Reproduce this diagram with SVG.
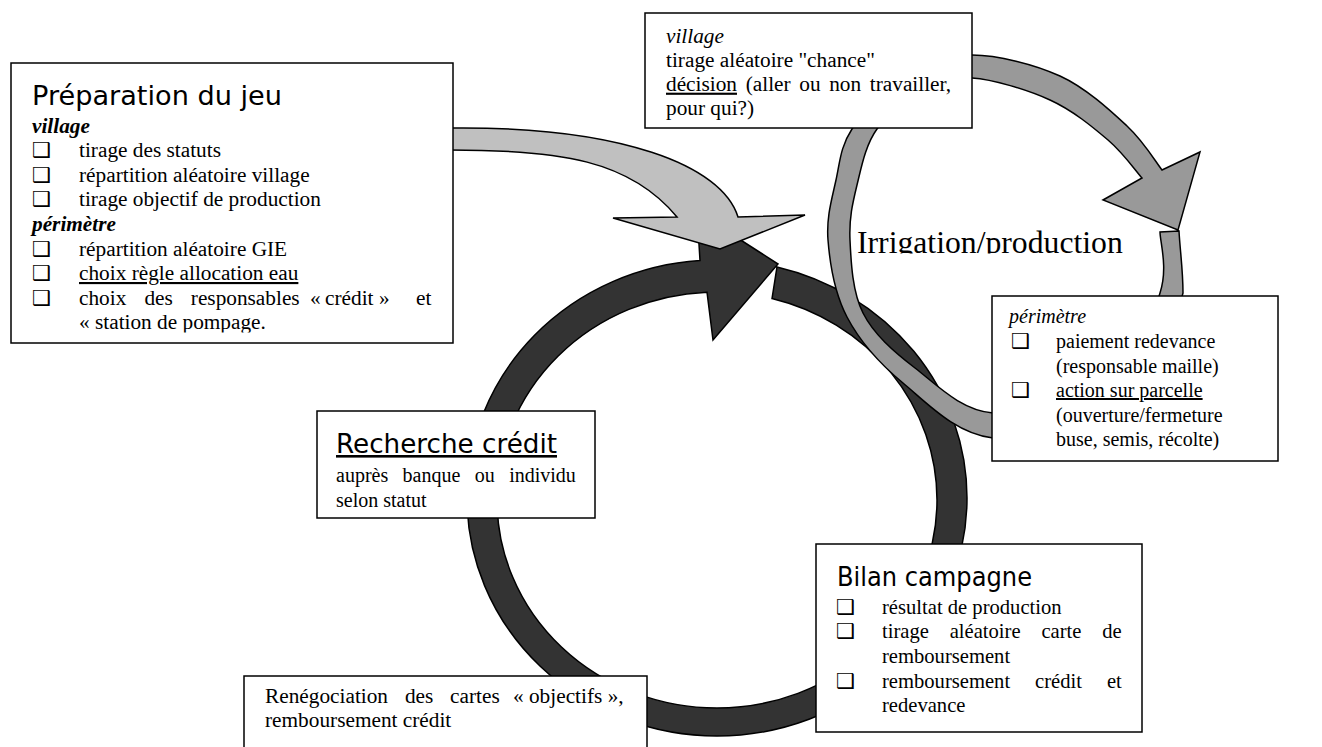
<svg xmlns="http://www.w3.org/2000/svg" width="1322" height="747" viewBox="0 0 1322 747">
<style>
.box{fill:#fff;stroke:#000;stroke-width:1.5}
.ar{stroke:#000;stroke-width:1.5;stroke-linejoin:miter}
.t{font-family:'Liberation Serif','Times New Roman',serif;font-size:21.3px;fill:#000}
.s20{font-size:20px}
.s206{font-size:20.6px}
.h{font-family:'DejaVu Sans',sans-serif;font-size:26px;fill:#000}
.cb{font-family:'DejaVu Sans',sans-serif;font-size:21px;font-weight:bold;fill:#000}
.bi{font-weight:bold;font-style:italic}
.i{font-style:italic}
.u{text-decoration:underline}
</style>
<defs>
<clipPath id="clipIrr"><rect x="800" y="190" width="400" height="63.5"/></clipPath>
<clipPath id="clipPrep"><rect x="11" y="63" width="442" height="269.5"/></clipPath>
</defs>
<rect width="1322" height="747" fill="#fff"/>
<g id="connectors">
<path id="cycle-dark" class="ar" fill="#333333" d="M777,267 A250,238 0 0 1 967,498 A250,238 0 0 1 467,498 A250,238 0 0 1 700,260.5 L697,212 L778,264 L713,340 L707,292.2 A220,208 0 0 0 497,500 A220,208 0 0 0 937,500 A220,208 0 0 0 772,298.6 Z"/>
<path id="arrow-prep" class="ar" fill="#c0c0c0" d="M440,128 L450,128 C620,126 722,165 738,217 L805,215 L720,249 L613,218 L677,217 C630,160 560,150 450,150 L440,150 Z"/>
<path id="cycle-irrigation" class="ar" fill="#999999" d="M1179,231 C1180,250 1183,270 1183,293 C1174.8,322.8 1161.7,385.8 1130,410 C1098.3,434.2 1030.8,442.5 993,438 C955.2,433.5 927.3,403.2 903,383 C878.7,362.8 859.5,340.8 847,317 C834.5,293.2 829.8,262.8 828,240 C826.2,217.2 832,198.5 836,180 C840,161.5 840.5,146.5 852,129 C863.5,111.5 885,87.3 905,75 C925,62.7 946.2,54.8 972,55 C997.8,55.2 1034.2,64.2 1060,76 C1085.8,87.8 1110,110.3 1127,126 C1144,141.7 1156.2,162.7 1162,170 L1200,152 L1178,230 L1103,200 L1142,178 C1136.3,171.7 1123.3,153 1108,140 C1092.7,127 1072.7,110.3 1050,100 C1027.3,89.7 992.8,79.3 972,78 C951.2,76.7 940.8,83.5 925,92 C909.2,100.5 888.3,113.5 877,129 C865.7,144.5 861.5,166.5 857,185 C852.5,203.5 849,218.7 850,240 C851,261.3 852.2,291.7 863,313 C873.8,334.3 893.3,351.3 915,368 C936.7,384.7 960.5,410.2 993,413 C1025.5,415.8 1082.2,405 1110,385 C1137.8,365 1151.7,318.5 1160,293 C1168.3,267.5 1160,242.2 1160,232 Z"/>
</g>
<g id="label-irrigation" clip-path="url(#clipIrr)">
<text class="t" x="857" y="253" style="font-size:31.7px">Irrigation/production</text>
</g>
<g id="node-preparation">
<rect class="box" x="11" y="63" width="442" height="280"/>
<text class="h" x="32" y="105" textLength="250" lengthAdjust="spacingAndGlyphs">Préparation du jeu</text>
<g clip-path="url(#clipPrep)">
<text class="t bi" x="32" y="132.5">village</text>
<text class="cb" x="32" y="157">❑</text><text class="t" x="79" y="157">tirage des statuts</text>
<text class="cb" x="32" y="181.7">❑</text><text class="t" x="79" y="181.7">répartition aléatoire village</text>
<text class="cb" x="32" y="206.3">❑</text><text class="t" x="79" y="206.3">tirage objectif de production</text>
<text class="t bi" x="32" y="231">périmètre</text>
<text class="cb" x="32" y="255.5">❑</text><text class="t" x="79" y="255.5">répartition aléatoire GIE</text>
<text class="cb" x="32" y="280">❑</text><text class="t u" x="79" y="280">choix règle allocation eau</text>
<text class="cb" x="32" y="304.7">❑</text><text class="t" y="304.7"><tspan x="79">choix</tspan><tspan x="144.4">des</tspan><tspan x="190.8">responsables</tspan><tspan x="310">«</tspan><tspan x="325">crédit</tspan><tspan x="379">»</tspan><tspan x="416">et</tspan></text>
<text class="t" x="79" y="329.3">« station de pompage.</text>
</g>
</g>
<g id="node-village">
<rect class="box" x="645" y="13" width="327" height="115"/>
<text class="t i" x="666" y="42.7">village</text>
<text class="t" x="666" y="66.7">tirage aléatoire "chance"</text>
<text class="t" y="90.7"><tspan class="u" x="666">décision</tspan><tspan x="745.7">(aller</tspan><tspan x="799.3">ou</tspan><tspan x="829.2">non</tspan><tspan x="869.8">travailler,</tspan></text>
<text class="t" x="666" y="115">pour qui?)</text>
</g>
<g id="node-perimetre">
<rect class="box" x="992" y="296" width="286" height="165"/>
<text class="t s20 i" x="1009" y="323">périmètre</text>
<text class="cb" x="1011" y="348">❑</text><text class="t s20" x="1056" y="348">paiement redevance</text>
<text class="t s20" x="1056" y="372.5">(responsable maille)</text>
<text class="cb" x="1011" y="397">❑</text><text class="t s20 u" x="1056" y="397">action sur parcelle</text>
<text class="t s20" x="1056" y="421.5">(ouverture/fermeture</text>
<text class="t s20" x="1056" y="446">buse, semis, récolte)</text>
</g>
<g id="node-recherche">
<rect class="box" x="317" y="411" width="278" height="107"/>
<text class="h u" x="336" y="453" textLength="221" lengthAdjust="spacingAndGlyphs">Recherche crédit</text>
<text class="t s20" y="482"><tspan x="336">auprès</tspan><tspan x="402.6">banque</tspan><tspan x="474.8">ou</tspan><tspan x="509.2">individu</tspan></text>
<text class="t s20" x="336" y="507">selon statut</text>
</g>
<g id="node-bilan">
<rect class="box" x="816" y="544" width="326" height="188"/>
<text class="h" x="837" y="586" textLength="195" lengthAdjust="spacingAndGlyphs">Bilan campagne</text>
<text class="cb" x="836" y="613.5">❑</text><text class="t s206" x="882" y="613.5">résultat de production</text>
<text class="cb" x="836" y="638.2">❑</text><text class="t s206" y="638.2"><tspan x="882">tirage</tspan><tspan x="949.7">aléatoire</tspan><tspan x="1041.4">carte</tspan><tspan x="1102.2">de</tspan></text>
<text class="t s206" x="882" y="662.9">remboursement</text>
<text class="cb" x="836" y="687.6">❑</text><text class="t s206" y="687.6"><tspan x="882">remboursement</tspan><tspan x="1035.1">crédit</tspan><tspan x="1106.9">et</tspan></text>
<text class="t s206" x="882" y="712.3">redevance</text>
</g>
<g id="node-renegociation">
<rect class="box" x="244" y="676" width="403" height="80"/>
<text class="t" y="703"><tspan x="265">Renégociation</tspan><tspan x="404.9">des</tspan><tspan x="450.1">cartes</tspan><tspan x="513">« objectifs »,</tspan></text>
<text class="t" x="265" y="727">remboursement crédit</text>
</g>
</svg>
